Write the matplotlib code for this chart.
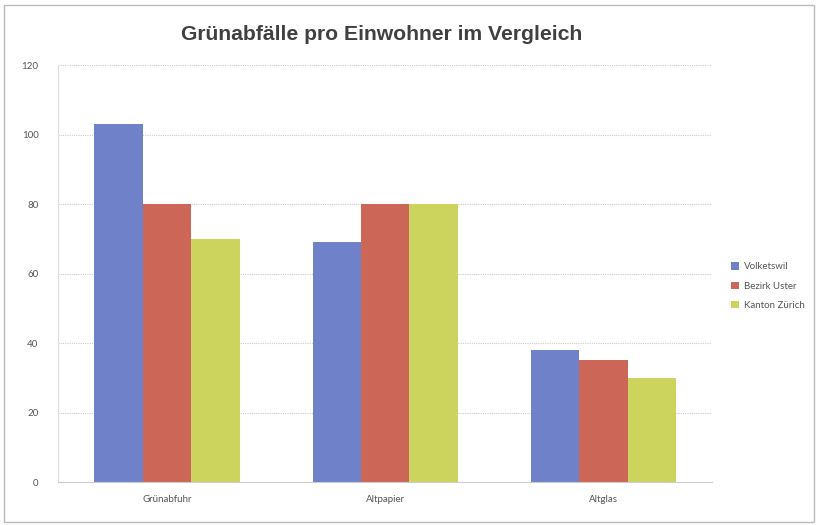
import numpy as np
import matplotlib
matplotlib.use('Agg')
import matplotlib.pyplot as plt
from matplotlib.patches import Rectangle

# ---------------------------------------------------------------------------
categories = ['Grünabfuhr', 'Altpapier', 'Altglas']
series     = ['Volketswil', 'Bezirk Uster', 'Kanton Zürich']
volketswil = [103, 69, 38]
uster      = [80, 80, 35]
zuerich    = [70, 80, 30]
yticks     = [0, 20, 40, 60, 80, 100, 120]

COLORS = ['#6f81c9', '#cc6757', '#cdd45e']
GRAY   = '#555555'


# ---------------------------------------------------------------------------
def main():
    plt.rcParams['font.family'] = ['Lato', 'DejaVu Sans']
    fig = plt.figure(figsize=(8.18, 5.25), dpi=100)
    fig.patches.append(Rectangle((0.005, 0.005), 0.99, 0.985, transform=fig.transFigure,
                                 fill=False, edgecolor='#bbbbbb', lw=1))

    ax = fig.add_axes([0.0709, 0.0819, 0.800, 0.794])
    x = np.arange(len(categories))
    w = 0.222
    for i, (name, vals) in enumerate(zip(series, [volketswil, uster, zuerich])):
        ax.bar(x + (i - 1) * w, vals, w, color=COLORS[i], label=name, zorder=2)

    ax.set_xlim(-0.5, len(categories) - 0.5)
    ax.set_ylim(0, 120)
    ax.set_yticks(yticks)
    ax.set_xticks(x)
    ax.set_xticklabels(categories)
    ax.tick_params(axis='both', length=0, labelsize=7, colors=GRAY)
    ax.tick_params(axis='y', pad=14)
    ax.tick_params(axis='x', pad=9)
    ax.yaxis.grid(True, color='#cccccc', lw=0.8, ls=(0, (1, 1)), zorder=0)
    for s in ['top', 'right']:
        ax.spines[s].set_visible(False)
    ax.spines['left'].set_color('#dddddd')
    ax.spines['bottom'].set_color('#cccccc')
    ax.spines['left'].set_linestyle((0, (1, 1)))

    fig.text(0.466, 0.935, 'Grünabfälle pro Einwohner im Vergleich', ha='center', va='center',
             fontsize=15.2, fontweight='bold', color='#404040', family=['Liberation Sans', 'DejaVu Sans'])

    ax.legend(loc='center left', bbox_to_anchor=(1.015, 0.47), frameon=False, fontsize=7,
              handlelength=0.8, handleheight=0.8, handletextpad=0.5, labelspacing=1.05,
              labelcolor=GRAY)

    fig.savefig('out.png', dpi=100)


if __name__ == '__main__':
    main()
